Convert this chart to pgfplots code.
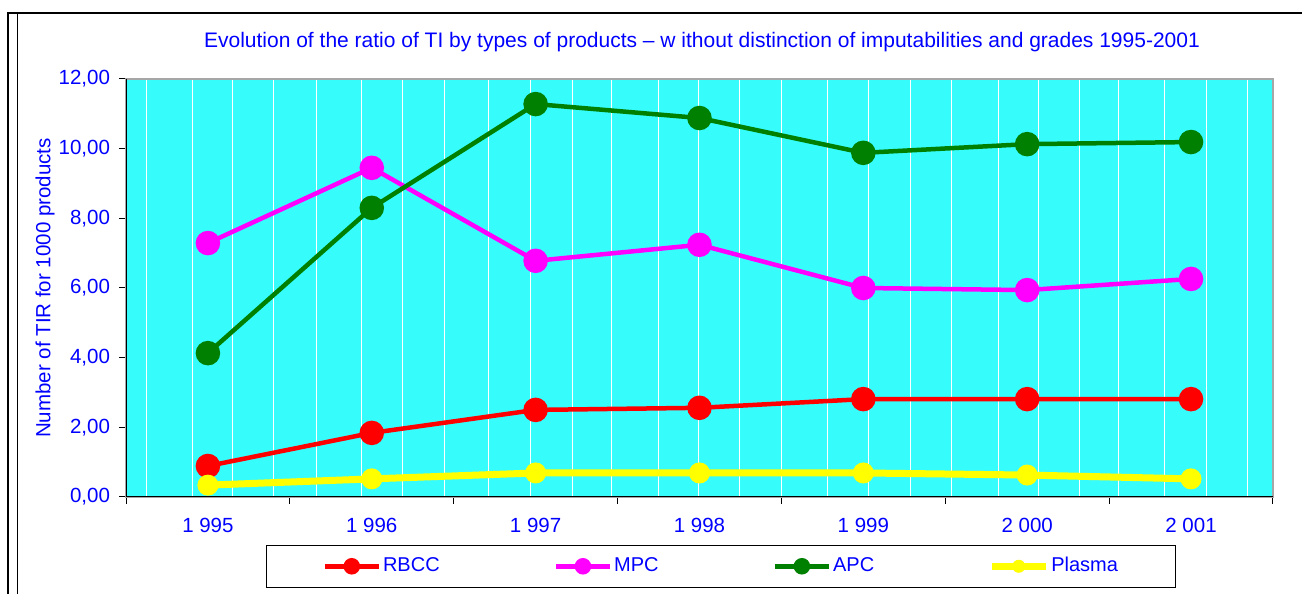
\documentclass[border=0pt]{standalone}
\usepackage{pgfplots}
\pgfplotsset{compat=1.18}
\usepackage{fontspec}
\setmainfont{Liberation Sans}
\definecolor{bg}{RGB}{55,252,252}
\definecolor{dgreen}{RGB}{0,128,0}
\definecolor{mag}{RGB}{255,0,255}
\definecolor{rd}{RGB}{255,0,0}
\definecolor{yl}{RGB}{255,255,0}
\definecolor{txtblue}{RGB}{0,0,255}
\newcommand{\bigf}{\fontsize{20.5pt}{24pt}\selectfont}
\begin{document}
\bigf
\begin{tikzpicture}
\useasboundingbox (0,0) rectangle (1302pt,594pt);
\draw[line width=2.5pt] (8pt,0) -- (8pt,581pt) -- (1302pt,581pt);
\draw[line width=1pt] (17.5pt,0) -- (17.5pt,580pt);
\node[txtblue, anchor=center, font=\fontsize{21pt}{24pt}\selectfont] at (702pt,552pt) {Evolution of the ratio of TI by types of products – w ithout distinction of imputabilities and grades 1995-2001};
\begin{axis}[
  at={(126pt,97pt)}, anchor=south west, scale only axis,
  width=1147pt, height=418pt,
  xmin=0, xmax=7, ymin=0, ymax=12,
  axis background/.style={fill=bg},
  axis line style={draw=gray!70, line width=1.5pt},
  tick align=outside, major tick length=7pt, tick pos=left,
  tick style={black, line width=1pt},
  xtick={0,...,7}, xticklabels={},
  extra x ticks={0.5,1.5,2.5,3.5,4.5,5.5,6.5},
  extra x tick labels={1 995,1 996,1 997,1 998,1 999,2 000,2 001},
  extra x tick style={major tick length=0pt, grid=none, xticklabel style={yshift=-14pt}},
  minor xtick={0.126,0.403,0.653,0.903,1.160,1.440,1.690,1.941,2.215,2.466,2.722,2.966,3.247,3.497,3.747,4.003,4.284,4.534,4.785,5.041,5.322,5.572,5.822,6.060,6.341,6.597,6.847},
  minor tick length=0pt, xminorgrids=true, minor grid style={white, line width=1pt},
  ytick={0,2,...,12},
  tick label style={text=txtblue, font=\bigf},
  yticklabel style={xshift=-2pt, /pgf/number format/.cd, fixed, fixed zerofill, precision=2, use comma, assume math mode=true},
  ylabel={Number of TIR for 1000 products},
  every axis y label/.style={at={(axis description cs:-0.0706,0.5)}, rotate=90, anchor=center, text=txtblue, font=\bigf},
  legend columns=4,
  legend style={at={(0.1221,-0.1148)}, anchor=north west, draw=black, line width=1pt,
    inner xsep=56pt, inner ysep=10pt, text=txtblue, font=\fontsize{20pt}{23pt}\selectfont,
    /tikz/every even column/.append style={column sep=112pt}},
  legend image code/.code={\draw[#1, mark repeat=2, mark phase=2, mark size=6pt] plot coordinates {(0pt,0pt) (27pt,0pt) (54pt,0pt)};},
]
\addplot[rd, line width=4.5pt, mark=*, mark size=10pt, mark options={fill=rd, draw=rd}] coordinates {
(0.5,0.89) (1.5,1.84) (2.5,2.50) (3.5,2.56) (4.5,2.81) (5.5,2.81) (6.5,2.81)};
\addlegendentry{RBCC}
\addplot[mag, line width=4.5pt, mark=*, mark size=10pt, mark options={fill=mag, draw=mag}] coordinates {
(0.5,7.29) (1.5,9.45) (2.5,6.78) (3.5,7.24) (4.5,6.00) (5.5,5.94) (6.5,6.26)};
\addlegendentry{MPC}
\addplot[dgreen, line width=4.5pt, mark=*, mark size=10pt, mark options={fill=dgreen, draw=dgreen}] coordinates {
(0.5,4.13) (1.5,8.30) (2.5,11.28) (3.5,10.88) (4.5,9.88) (5.5,10.13) (6.5,10.19)};
\addlegendentry{APC}
\addplot[yl, line width=7pt, mark=*, mark size=10pt, mark options={fill=yl, draw=yl, line width=1pt}] coordinates {
(0.5,0.34) (1.5,0.52) (2.5,0.69) (3.5,0.69) (4.5,0.69) (5.5,0.63) (6.5,0.52)};
\addlegendentry{Plasma}
\draw[black, line width=1.5pt] (rel axis cs:0,1) -- (rel axis cs:0,0) -- (rel axis cs:1,0);
\end{axis}
\end{tikzpicture}
\end{document}
